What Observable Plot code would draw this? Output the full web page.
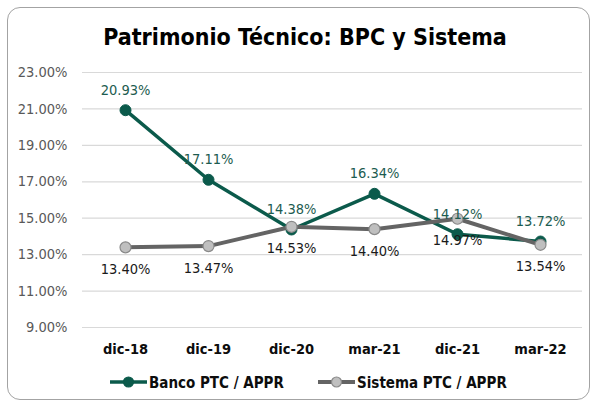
<!DOCTYPE html>
<html>
<head>
<meta charset="utf-8">
<script src="https://cdn.jsdelivr.net/npm/d3@7"></script>
<script src="https://cdn.jsdelivr.net/npm/@observablehq/plot@0.6"></script>
<style>
  html, body { margin: 0; padding: 0; background: #fff; }
  #wrap { position: relative; width: 595px; height: 401px; overflow: hidden; background: #fff;
          font-family: "DejaVu Sans Condensed", "DejaVu Sans", sans-serif; }
  #frame { position: absolute; left: 7px; top: 7px; width: 581px; height: 391px;
           border: 1.5px solid #a3a3a3; border-radius: 13px; box-sizing: content-box; }
  #title { position: absolute; left: 0; width: 610px; top: 25px; text-align: center;
           font-size: 23px; font-weight: bold; line-height: 24px; color: #000; }
  #chart { position: absolute; left: 0; top: 0; }
  #legend { position: absolute; left: 0; top: 370px; }
</style>
</head>
<body>
<div id="wrap">
  <div id="frame"></div>
  <div id="chart"></div>
  <div id="title">Patrimonio Técnico: BPC y Sistema</div>
  <div id="legend"></div>
</div>
<script>
const categories = ["dic-18", "dic-19", "dic-20", "mar-21", "dic-21", "mar-22"];
const bancoValues = [20.93, 17.11, 14.38, 16.34, 14.12, 13.72];
const sistemaValues = [13.40, 13.47, 14.53, 14.40, 14.97, 13.54];
const yTicks = [9, 11, 13, 15, 17, 19, 21, 23];
const seriesNames = ["Banco PTC / APPR", "Sistema PTC / APPR"];

const banco = categories.map((c, i) => ({cat: c, v: bancoValues[i]}));
const sistema = categories.map((c, i) => ({cat: c, v: sistemaValues[i]}));

const GREEN = "#0b5a4b";
const GRAY = "#646464";
const fmt = d => d.toFixed(2) + "%";
const FONT = "'DejaVu Sans Condensed', 'DejaVu Sans', sans-serif";

const chart = Plot.plot({
  width: 595,
  height: 401,
  marginLeft: 82,
  marginRight: 13,
  marginTop: 72,
  marginBottom: 74,
  style: {fontFamily: FONT, background: "transparent", overflow: "visible"},
  x: {type: "point", domain: categories, padding: 0.5, label: null},
  y: {domain: [9, 23], label: null},
  marks: [
    Plot.ruleY(yTicks, {stroke: "#d9d9d9", strokeWidth: 1.2}),
    Plot.axisY({ticks: yTicks, tickFormat: fmt, tickSize: 0, tickPadding: 15,
      fontSize: 14.5, fill: "#595959", label: null}),
    Plot.axisX({tickSize: 0, tickPadding: 16, fontSize: 14.5, fontWeight: "bold",
      fill: "#0d0d0d", label: null}),
    Plot.line(banco, {x: "cat", y: "v", stroke: GREEN, strokeWidth: 3.5}),
    Plot.dot(banco, {x: "cat", y: "v", r: 5.5, fill: GREEN, stroke: GREEN, strokeWidth: 1}),
    Plot.line(sistema, {x: "cat", y: "v", stroke: GRAY, strokeWidth: 4}),
    Plot.dot(sistema, {x: "cat", y: "v", r: 5.5, fill: "#bfbfbf", stroke: "#8a8a8a", strokeWidth: 1.2}),
    Plot.text(banco, {x: "cat", y: "v", text: d => fmt(d.v), dy: -20, fontSize: 14.5,
      fill: "#1d5c50"}),
    Plot.text(sistema, {x: "cat", y: "v", text: d => fmt(d.v), dy: 22, fontSize: 14.5,
      fill: "#1a1a1a"})
  ]
});
document.getElementById("chart").appendChild(chart);

// legend
const lg = d3.select("#legend").append("svg").attr("width", 595).attr("height", 26);
const items = [
  {name: seriesNames[0], x0: 110, stroke: GREEN, sw: 3.5, fill: GREEN, mstroke: GREEN},
  {name: seriesNames[1], x0: 318, stroke: GRAY, sw: 4, fill: "#bfbfbf", mstroke: "#8a8a8a"}
];
const cy = 12;
items.forEach(it => {
  lg.append("line").attr("x1", it.x0).attr("x2", it.x0 + 37).attr("y1", cy).attr("y2", cy)
    .attr("stroke", it.stroke).attr("stroke-width", it.sw);
  lg.append("circle").attr("cx", it.x0 + 18.5).attr("cy", cy).attr("r", 5)
    .attr("fill", it.fill).attr("stroke", it.mstroke).attr("stroke-width", 1.2);
  lg.append("text").attr("x", it.x0 + 39).attr("y", cy + 5.5)
    .attr("font-family", FONT).attr("font-size", 15).attr("font-weight", "bold")
    .attr("fill", "#0d0d0d").text(it.name);
});
</script>
</body>
</html>
